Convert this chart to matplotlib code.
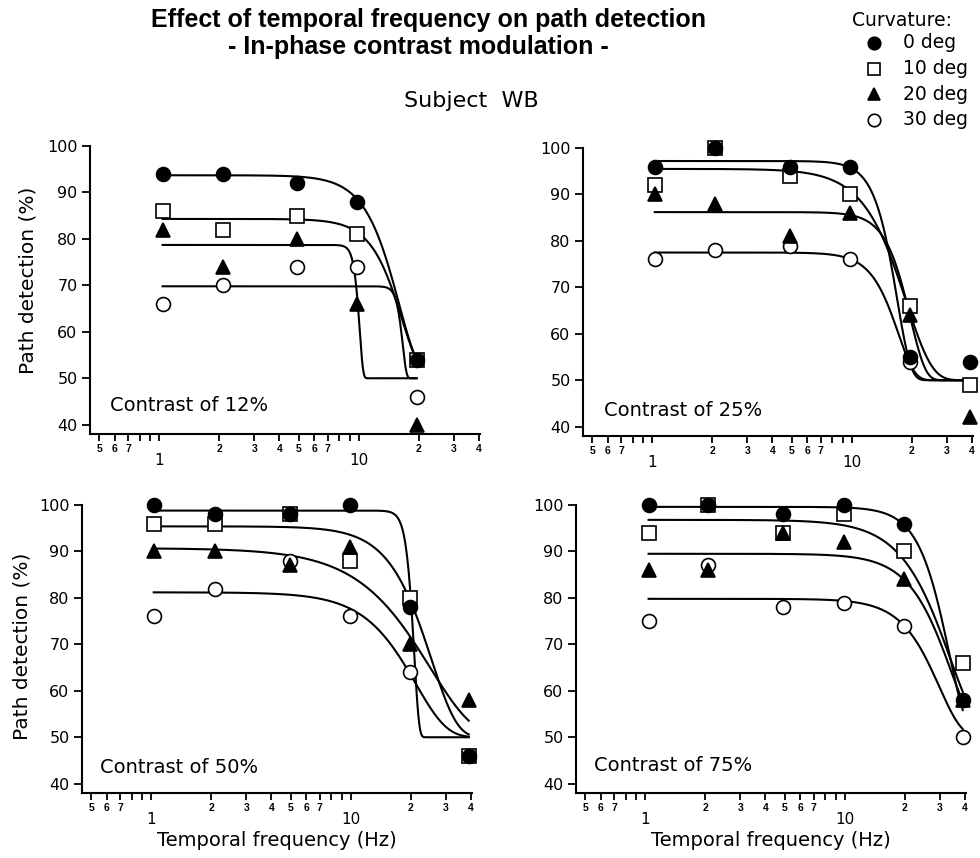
import numpy as np
import matplotlib
matplotlib.use('Agg')
import matplotlib.pyplot as plt
from matplotlib.lines import Line2D
from matplotlib.ticker import FixedLocator, FixedFormatter

plt.rcParams['font.family'] = ['DejaVu Sans']

nan = np.nan

# curvature conditions and contrast panels
curvatures = ['0 deg', '10 deg', '20 deg', '30 deg']
contrasts = ['12%', '25%', '50%', '75%']

# temporal frequencies (Hz) for each contrast
freq_12 = [1.04, 2.08, 4.9, 9.8, 19.5]
freq_25 = [1.03, 2.06, 4.9, 9.8, 19.5, 39.0]
freq_50 = [1.03, 2.08, 4.95, 9.9, 19.8, 39.0]
freq_75 = [1.04, 2.07, 4.92, 9.9, 19.8, 39.0]

# path detection (%) per curvature
c12_0 = [94, 94, 92, 88, 54]
c12_10 = [86, 82, 85, 81, 54]
c12_20 = [82, 74, 80, 66, 40]
c12_30 = [66, 70, 74, 74, 46]

c25_0 = [96, 100, 96, 96, 55, 54]
c25_10 = [92, 100, 94, 90, 66, 49]
c25_20 = [90, 88, 81, 86, 64, 42]
c25_30 = [76, 78, 79, 76, 54, nan]

c50_0 = [100, 98, 98, 100, 78, 46]
c50_10 = [96, 96, 98, 88, 80, 46]
c50_20 = [90, 90, 87, 91, 70, 58]
c50_30 = [76, 82, 88, 76, 64, nan]

c75_0 = [100, 100, 98, 100, 96, 58]
c75_10 = [94, 100, 94, 98, 90, 66]
c75_20 = [86, 86, 94, 92, 84, 58]
c75_30 = [75, 87, 78, 79, 74, 50]

# fitted curves: 50 + (plateau - 50) * exp(-(f / cutoff) ** slope)
fit12_plateau = [93.7, 84.3, 78.7, 69.8]
fit12_cutoff = [15.9, 16.5, 10.1, 16.6]
fit12_slope = [4.3, 4.7, 25, 23]

fit25_plateau = [97.2, 95.5, 86.2, 77.5]
fit25_cutoff = [16.9, 18.8, 19.7, 17.1]
fit25_slope = [6.4, 3.4, 5.8, 5.3]

fit50_plateau = [98.8, 95.4, 90.7, 81.2]
fit50_cutoff = [20.8, 25.4, 25.0, 21.2]
fit50_slope = [18, 3.4, 2.0, 2.8]

fit75_plateau = [99.6, 96.8, 89.5, 79.8]
fit75_cutoff = [33.3, 33.6, 33.9, 29.7]
fit75_slope = [4.8, 3.0, 3.5, 3.8]

panels = [
    (freq_12, [c12_0, c12_10, c12_20, c12_30], fit12_plateau, fit12_cutoff, fit12_slope),
    (freq_25, [c25_0, c25_10, c25_20, c25_30], fit25_plateau, fit25_cutoff, fit25_slope),
    (freq_50, [c50_0, c50_10, c50_20, c50_30], fit50_plateau, fit50_cutoff, fit50_slope),
    (freq_75, [c75_0, c75_10, c75_20, c75_30], fit75_plateau, fit75_cutoff, fit75_slope),
]

marker_styles = [
    dict(marker='o', mfc='black', zorder=6),
    dict(marker='s', mfc='white', zorder=4),
    dict(marker='^', mfc='black', zorder=5),
    dict(marker='o', mfc='white', zorder=3),
]

W, H = 980, 858
fig = plt.figure(figsize=(W / 100, H / 100), dpi=100)

# axes boxes in pixels: left spine x, bottom spine y
boxes = [(90, 434), (583, 436), (82, 793), (576, 793)]
label_pos = [(0.05, 0.10), (0.055, 0.09), (0.045, 0.09), (0.045, 0.095)]
ylabel_pos = [(-0.135, 0.535), None, (-0.13, 0.51), None]

minor_ticks = [0.5, 0.6, 0.7, 0.8, 0.9, 2, 3, 4, 5, 6, 7, 8, 9, 20, 30, 40]
minor_labels = ['5', '6', '7', '', '', '2', '3', '4', '5', '6', '7', '', '', '2', '3', '4']

for i, (freqs, series, plateau, cutoff, slope) in enumerate(panels):
    x0, yb = boxes[i]
    ax = fig.add_axes([x0 / W, 1 - yb / H, 390 / W, 288 / H])
    f_fit = np.logspace(np.log10(freqs[0]), np.log10(freqs[-1]), 400)
    for j in range(4):
        y_fit = 50 + (plateau[j] - 50) * np.exp(-(f_fit / cutoff[j]) ** slope[j])
        ax.plot(f_fit, y_fit, color='black', lw=1.5, zorder=2)
    for j in range(4):
        st = marker_styles[j]
        ax.plot(freqs, series[j], ls='none', marker=st['marker'], mfc=st['mfc'],
                mec='black', mew=1.2, ms=10, zorder=st['zorder'], clip_on=False)

    ax.set_xscale('log')
    ax.set_xlim(0.45, 40.5)
    ax.set_ylim(38, 100)
    for s in ['top', 'right']:
        ax.spines[s].set_visible(False)
    for s in ['left', 'bottom']:
        ax.spines[s].set_linewidth(1.5)

    ax.xaxis.set_major_locator(FixedLocator([1, 10]))
    ax.xaxis.set_major_formatter(FixedFormatter(['1', '10']))
    ax.xaxis.set_minor_locator(FixedLocator(minor_ticks))
    ax.xaxis.set_minor_formatter(FixedFormatter(minor_labels))
    ax.tick_params(axis='x', which='major', labelsize=11, pad=9, length=5, width=1.3)
    ax.tick_params(axis='x', which='minor', labelsize=7.5, pad=2, length=5, width=1.3)
    for lab in ax.get_xticklabels(minor=True):
        lab.set_fontweight('bold')
        lab.set_family(['Liberation Sans', 'DejaVu Sans'])

    ax.set_yticks([40, 50, 60, 70, 80, 90, 100])
    ax.tick_params(axis='y', labelsize=11.5, length=6, width=1.3, pad=3)

    if ylabel_pos[i] is not None:
        ax.set_ylabel('Path detection (%)', fontsize=14.5)
        ax.yaxis.set_label_coords(*ylabel_pos[i])
    if i >= 2:
        ax.set_xlabel('Temporal frequency (Hz)', fontsize=14)
        ax.xaxis.set_label_coords(0.5, -47 / 288)
        ax.xaxis.label.set_va('center')

    lx, ly = label_pos[i]
    ax.text(lx, ly, 'Contrast of ' + contrasts[i], transform=ax.transAxes,
            fontsize=14, ha='left', va='center')

# titles
bold_font = ['Liberation Sans', 'DejaVu Sans']
fig.text(428 / W, 1 - 20 / H, 'Effect of temporal frequency on path detection',
         fontsize=18, fontweight='bold', family=bold_font, ha='center', va='center')
fig.text(418 / W, 1 - 47 / H, '- In-phase contrast modulation -',
         fontsize=18, fontweight='bold', family=bold_font, ha='center', va='center')
fig.text(471 / W, 1 - 101 / H, 'Subject  WB', fontsize=16, ha='center', va='center')

# legend
fig.text(852 / W, 1 - 20 / H, 'Curvature:', fontsize=13.5, ha='left', va='center')
for j, name in enumerate(curvatures):
    yy = 1 - (43 + 25.5 * j) / H
    st = marker_styles[j]
    fig.add_artist(Line2D([874 / W], [yy], transform=fig.transFigure, ls='none',
                          marker=st['marker'], mfc=st['mfc'], mec='black', mew=1.2, ms=9))
    fig.text(903 / W, yy, name, fontsize=13.5, ha='left', va='center')

fig.savefig('out.png', dpi=100)
